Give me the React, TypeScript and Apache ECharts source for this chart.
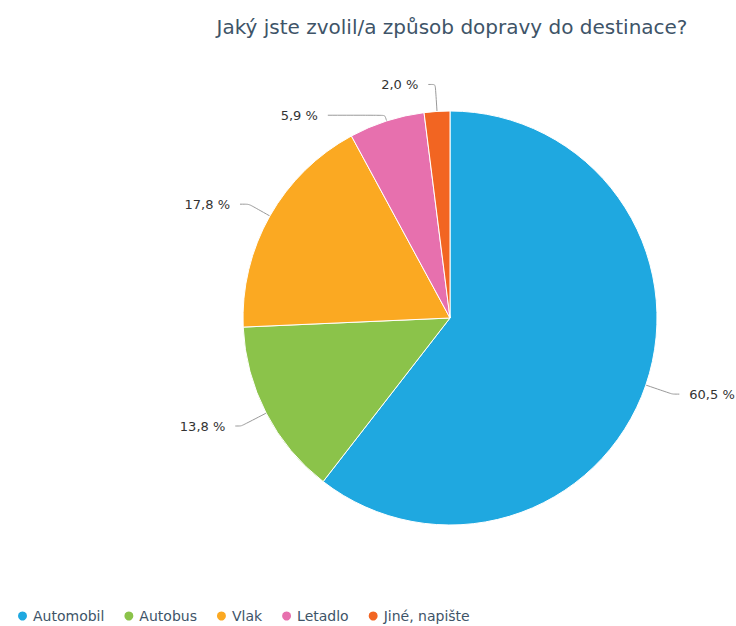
import React, { useEffect, useRef } from "react";
import * as echarts from "echarts";

const titleText = "Jaký jste zvolil/a způsob dopravy do destinace?";
const categories = ["Automobil", "Autobus", "Vlak", "Letadlo", "Jiné, napište"];
const percentages = [60.5, 13.8, 17.8, 5.9, 2.0];
const colors = ["#1fa8e0", "#8bc34a", "#fba922", "#e770ae", "#f26522"];
// label connector lengths per slice: [radial, horizontal]
const labelLineLayout = [
  [28, 7],
  [28, 6],
  [24, 9],
  [6, 57],
  [27, 7],
];

const fmt = (v: number) => v.toFixed(1).replace(".", ",") + " %";
const FONT = "'DejaVu Sans', Verdana, sans-serif";

export default function App() {
  const ref = useRef<HTMLDivElement>(null);
  useEffect(() => {
    if (!ref.current) return;
    const chart = echarts.init(ref.current, undefined, { renderer: "svg" });
    chart.setOption({
      animation: false,
      backgroundColor: "#ffffff",
      title: {
        text: titleText,
        left: 447,
        top: 12,
        textAlign: "center",
        textStyle: {
          fontFamily: FONT,
          fontSize: 20,
          fontWeight: "normal",
          color: "#3e5468",
        },
      },
      legend: {
        data: categories,
        left: 11,
        top: 604,
        orient: "horizontal",
        icon: "circle",
        itemWidth: 11,
        itemHeight: 11,
        itemGap: 18,
        textStyle: {
          fontFamily: FONT,
          fontSize: 14,
          color: "#3e5468",
        },
      },
      series: [
        {
          type: "pie",
          center: [450, 318],
          radius: [0, 207],
          startAngle: 90,
          clockwise: true,
          avoidLabelOverlap: false,
          itemStyle: { borderColor: "#ffffff", borderWidth: 1 },
          label: {
            show: true,
            position: "outside",
            formatter: (p: any) => fmt(p.value),
            fontFamily: FONT,
            fontSize: 13,
            color: "#333333",
            width: 60,
            distanceToLabelLine: 10,
          },
          labelLine: {
            show: true,
            smooth: 0.2,
            lineStyle: { color: "#999999", width: 1 },
          },
          emphasis: { disabled: true },
          data: categories.map((name, i) => ({
            name,
            value: percentages[i],
            itemStyle: { color: colors[i] },
            labelLine: {
              length: labelLineLayout[i][0],
              length2: labelLineLayout[i][1],
            },
          })),
        },
      ],
    });
    return () => chart.dispose();
  }, []);
  return (
    <div
      ref={ref}
      style={{ position: "absolute", left: 0, top: 0, width: 736, height: 626 }}
    />
  );
}
